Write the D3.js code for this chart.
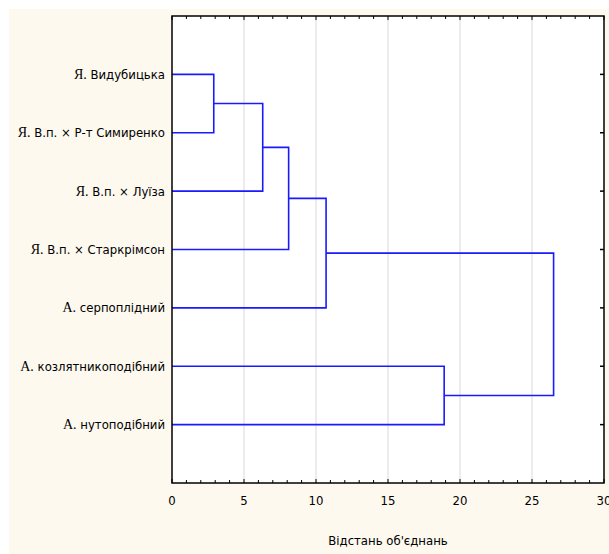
<!DOCTYPE html>
<html>
<head>
<meta charset="utf-8">
<script src="https://cdn.jsdelivr.net/npm/d3@7"></script>
<style>
  body { margin: 0; background: #fff; }
  svg { display: block; }
</style>
</head>
<body>
<svg id="chart" width="609" height="554"></svg>
<script>
// leaves top to bottom: [serif prefix, rest of label]
const leafPrefix = ["Я.", "Я.", "Я.", "Я.", "А.", "А.", "А."];
const leafNames = [" Видубицька", " В.п. × Р-т Симиренко", " В.п. × Луїза", " В.п. × Старкрімсон",
  " серпоплідний", " козлятникоподібний", " нутоподібний"];
// merges: [left child, right child, linkage distance]; leaves are 0..6, clusters 7..
const mergeA = [0, 7, 8, 9, 5, 10];
const mergeB = [1, 2, 3, 4, 6, 11];
const mergeDist = [2.9, 6.3, 8.1, 10.7, 18.9, 26.5];
const xTicks = [0, 5, 10, 15, 20, 25, 30];
const xTitle = "Відстань об'єднань";

const svg = d3.select("#chart"),
  width = +svg.attr("width"),
  height = +svg.attr("height");

const margin = { top: 16, right: 5, bottom: 71, left: 172 },
  innerWidth = width - margin.left - margin.right,
  innerHeight = height - margin.top - margin.bottom;

svg.append("rect")
  .attr("x", 9).attr("y", 9)
  .attr("width", width - 9).attr("height", height - 9)
  .attr("fill", "#fdf9ef");

const g = svg.append("g")
  .attr("transform", `translate(${margin.left},${margin.top})`);

const x = d3.scaleLinear().domain([0, 30]).range([0, innerWidth]);
const y = d3.scaleLinear().domain([0, leafNames.length + 1]).range([0, innerHeight]);

g.append("rect")
  .attr("width", innerWidth).attr("height", innerHeight)
  .attr("fill", "#fff");

// gridlines
g.selectAll(".grid")
  .data(xTicks.slice(1, -1))
  .enter().append("line")
  .attr("x1", d => x(d)).attr("x2", d => x(d))
  .attr("y1", 0).attr("y2", innerHeight)
  .attr("stroke", "#d9d9d9").attr("stroke-width", 1);

// node positions
const nodes = leafNames.map((n, i) => ({ h: 0, y: y(i + 1) }));
const links = [];
mergeDist.forEach((d, i) => {
  const a = nodes[mergeA[i]], b = nodes[mergeB[i]];
  const xm = x(d);
  links.push([[x(a.h), a.y], [xm, a.y], [xm, b.y], [x(b.h), b.y]]);
  nodes.push({ h: d, y: (a.y + b.y) / 2 });
});

g.selectAll(".link")
  .data(links)
  .enter().append("path")
  .attr("class", "link")
  .attr("d", d3.line())
  .attr("fill", "none")
  .attr("stroke", "#1a1aff")
  .attr("stroke-width", 1.6);

// frame
g.append("rect")
  .attr("width", innerWidth).attr("height", innerHeight)
  .attr("fill", "none").attr("stroke", "#000").attr("stroke-width", 1.5);

// bottom axis with minor ticks inward
const minor = d3.range(0, 31);
g.append("g")
  .selectAll("line").data(minor).enter().append("line")
  .attr("x1", d => x(d)).attr("x2", d => x(d))
  .attr("y1", innerHeight).attr("y2", d => innerHeight - (d % 5 === 0 ? 4 : 3))
  .attr("stroke", "#000");
g.append("g")
  .selectAll("line").data(minor).enter().append("line")
  .attr("x1", d => x(d)).attr("x2", d => x(d))
  .attr("y1", 0).attr("y2", d => (d % 5 === 0 ? 4 : 3))
  .attr("stroke", "#000");

// right axis ticks
g.append("g")
  .selectAll("line").data(d3.range(1, leafNames.length + 1)).enter().append("line")
  .attr("x1", innerWidth).attr("x2", innerWidth - 4)
  .attr("y1", d => y(d)).attr("y2", d => y(d))
  .attr("stroke", "#000").attr("stroke-width", 1.5);

const sansFont = "'Liberation Sans Narrow', 'DejaVu Sans Condensed', 'Liberation Sans', sans-serif";

g.append("g")
  .selectAll("text").data(xTicks).enter().append("text")
  .attr("x", d => x(d)).attr("y", innerHeight + 22)
  .attr("text-anchor", "middle")
  .attr("font-family", sansFont).attr("font-size", 13)
  .text(d => d);

g.append("text")
  .attr("x", innerWidth / 2).attr("y", innerHeight + 62)
  .attr("text-anchor", "middle")
  .attr("font-family", sansFont).attr("font-size", 13)
  .text(xTitle);

// leaf labels
const lab = g.append("g").selectAll("text").data(leafNames).enter().append("text")
  .attr("x", -7).attr("y", (d, i) => y(i + 1))
  .attr("dy", "0.35em")
  .attr("text-anchor", "end")
  .attr("font-family", sansFont).attr("font-size", 13);
lab.append("tspan")
  .attr("font-family", "'Liberation Serif', serif").attr("font-size", 14)
  .text((d, i) => leafPrefix[i]);
lab.append("tspan").text(d => d);
</script>
</body>
</html>
